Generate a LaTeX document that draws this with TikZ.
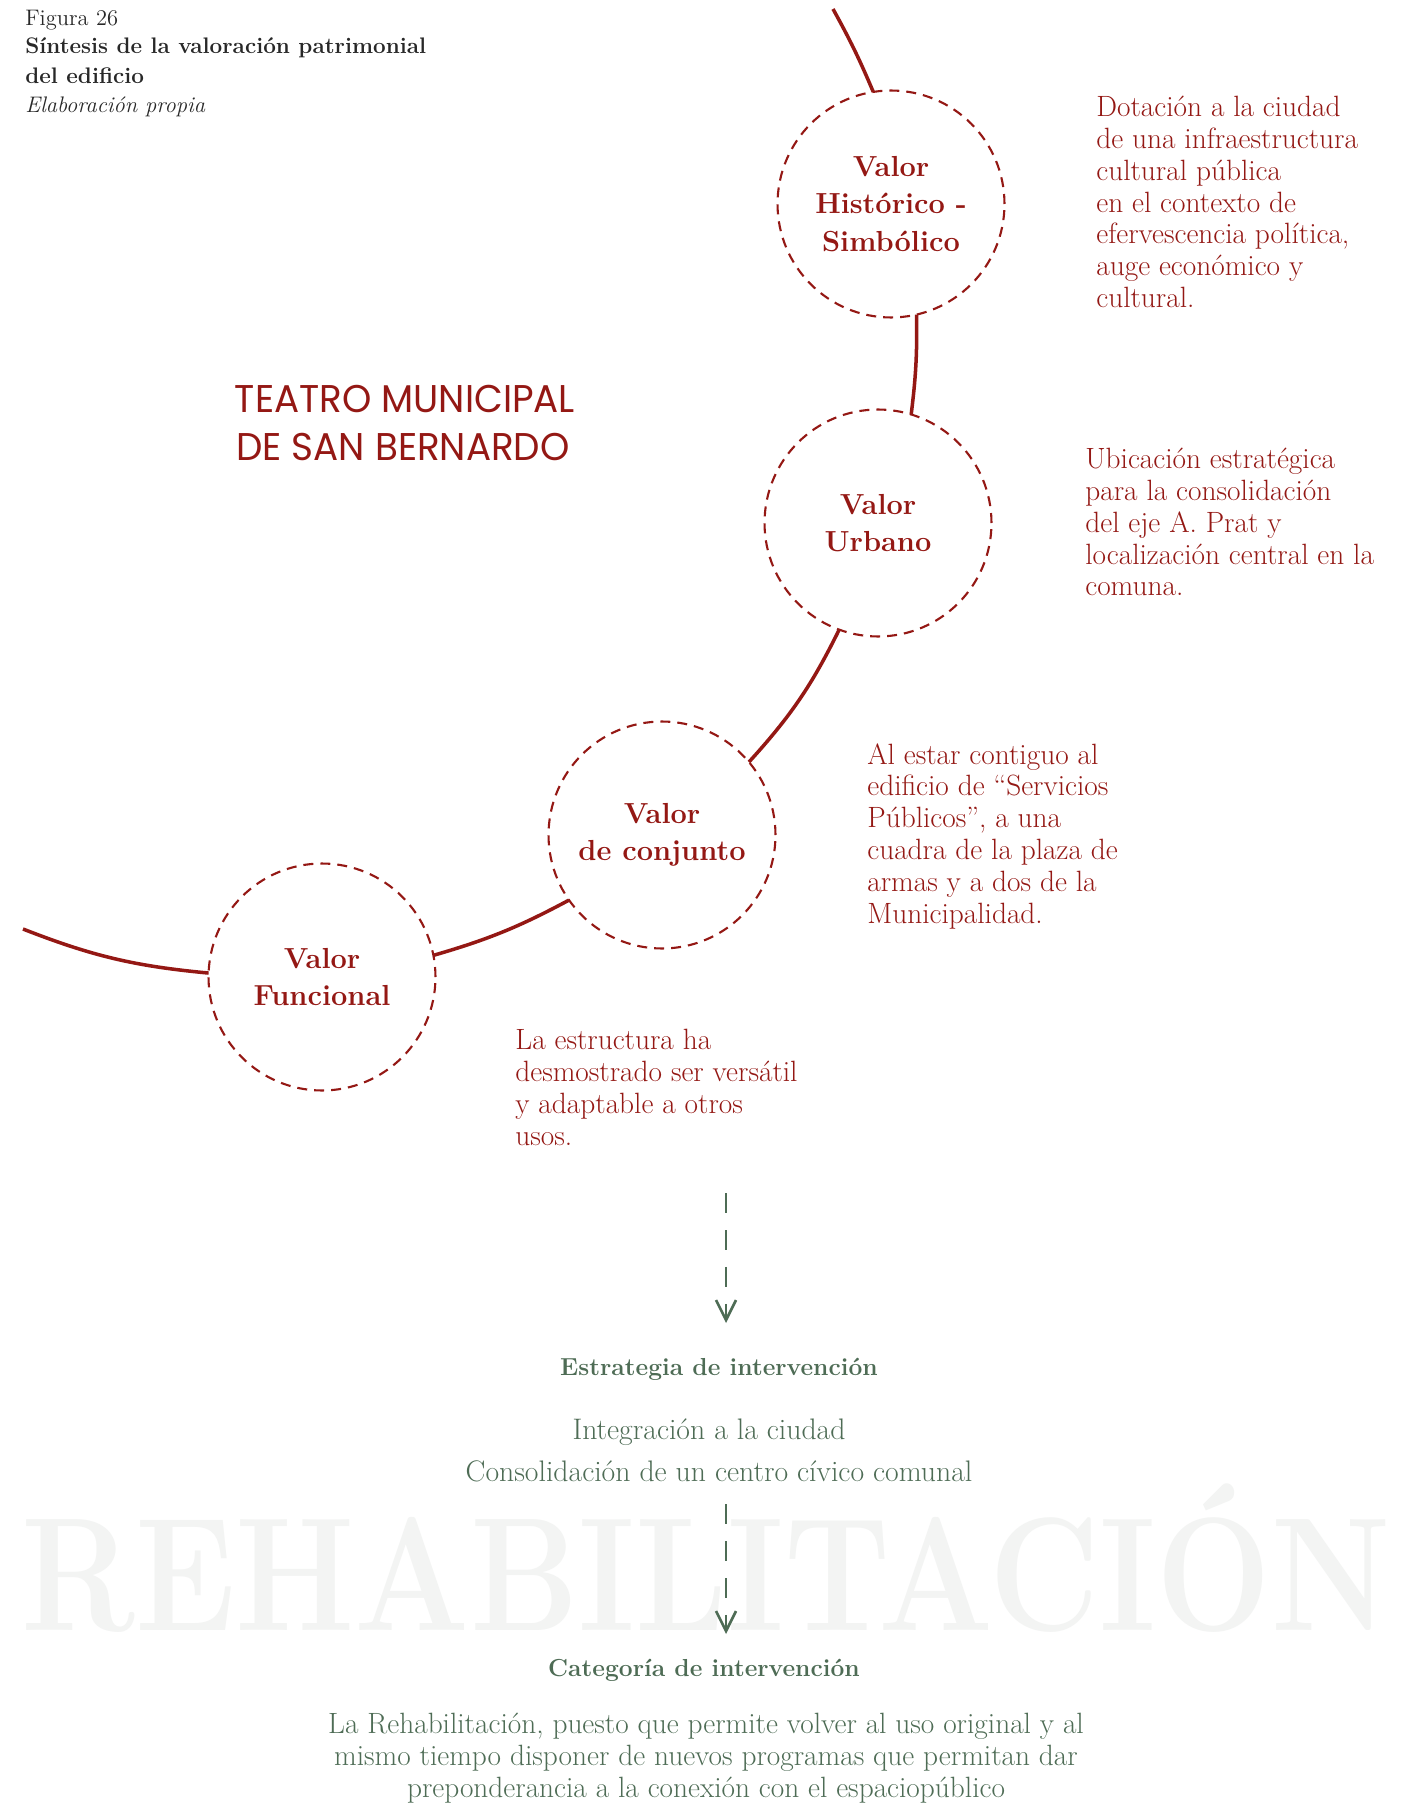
\documentclass[tikz,border=0pt]{standalone}
\usepackage{fontspec}
\usepackage{tikz}
\usetikzlibrary{arrows.meta, positioning, calc}
\definecolor{valred}{RGB}{148, 24, 20}
\definecolor{valgreen}{RGB}{78, 108, 85}
\definecolor{valgrey}{RGB}{40, 40, 40}
\definecolor{valwater}{RGB}{243, 244, 243}
\newfontfamily\decofont{Poppins}

\begin{document}
\begin{tikzpicture}[x=0.02cm, y=-0.02cm,
	valor/.style={circle, draw=valred, line width=1.2pt, dash pattern=on 0.2cm off 0.14cm,
		minimum size=4.54cm, inner sep=0pt, outer sep=0pt, text=valred, align=center,
		font=\bfseries\fontsize{16.5}{21.3}\selectfont},
	enlace/.style={draw=valred, line width=2pt},
	nota/.style={anchor=north west, inner sep=0pt, align=left, text=valred,
		font=\fontsize{16.7}{18.1}\selectfont},
	cabeza/.style={anchor=base west, inner sep=0pt, text=valgrey},
	verde/.style={anchor=base, inner sep=0pt, text=valgreen},
	flecha/.style={draw=valgreen, line width=1.5pt, dash pattern=on 0.4cm off 0.34cm,
		-{Straight Barb[length=0.4cm, width=0.4cm]}}]
	\useasboundingbox (0,0) rectangle (1427,1807);
	\fill[white] (0,0) rectangle (1427,1807);

	% marca de agua
	\node[anchor=base, inner sep=0pt, text=valwater, font=\bfseries\fontsize{92}{92}\selectfont] (agua) at (706,1630) {\scalebox{0.84}[1]{REHABILITACIÓN}};

	% titulo de la figura
	\node[cabeza, font=\fontsize{12.8}{16}\selectfont] (fig) at (25,26) {Figura 26};
	\node[cabeza, font=\bfseries\fontsize{12.8}{16}\selectfont] (sint1) at (25,54) {Síntesis de la valoración patrimonial};
	\node[cabeza, font=\bfseries\fontsize{12.8}{16}\selectfont] (sint2) at (25,84) {del edificio};
	\node[cabeza, font=\itshape\fontsize{12.8}{16}\selectfont] (elab) at (25,113) {Elaboración propia};

	\node[anchor=base, inner sep=0pt, text=valred, font=\decofont\fontsize{22}{22}\selectfont] (teatro1) at (405,413) {\scalebox{0.965}[1]{TEATRO MUNICIPAL}};
	\node[anchor=base, inner sep=0pt, text=valred, font=\decofont\fontsize{22}{22}\selectfont] (teatro2) at (403,460) {\scalebox{0.965}[1]{DE SAN BERNARDO}};

	% valores
	\node[valor] (his) at (891,204) {Valor\\Histórico -\\Simbólico};
	\node[valor] (urb) at (878,523) {Valor\\Urbano};
	\node[valor] (con) at (662,835) {Valor\\de conjunto};
	\node[valor] (fun) at (322,977) {Valor\\Funcional};

	\coordinate (ini) at (23,929);
	\coordinate (fin) at (833,9);
	\draw[enlace] (ini) to[bend right=8] (fun.178);
	\draw[enlace] (fun.11) to[bend right=6] (con.215);
	\draw[enlace] (con.40) to[bend right=8] (urb.250);
	\draw[enlace] (urb.73) to[bend right=4] (his.283);
	\draw[enlace] (his.99) to[bend right=3] (fin);

	\node[nota] (notahis) at (1096,96) {Dotación a la ciudad\\de una infraestructura\\cultural pública\\en el contexto de\\efervescencia política,\\auge económico y\\cultural.};
	\node[nota] (notaurb) at (1085,448) {Ubicación estratégica\\para la consolidación\\del eje A. Prat y\\localización central en la\\comuna.};
	\node[nota] (notacon) at (867,743) {Al estar contiguo al\\edificio de “Servicios\\Públicos”, a una\\cuadra de la plaza de\\armas y a dos de la\\Municipalidad.};
	\node[nota] (notafun) at (515,1029) {La estructura ha\\desmostrado ser versátil\\y adaptable a otros\\usos.};

	% estrategia y categoria
	\coordinate (fa1) at (726,1193);
	\coordinate (fb1) at (726,1323);
	\draw[flecha] (fa1) -- (fb1);
	\node[verde, font=\bfseries\fontsize{14}{18}\selectfont] (estr) at (719,1375) {Estrategia de intervención};
	\node[verde, font=\fontsize{16.9}{18}\selectfont] (integ) at (709,1439) {Integración a la ciudad};
	\node[verde, font=\fontsize{16.9}{18}\selectfont] (consol) at (719,1481) {Consolidación de un centro cívico comunal};

	\coordinate (fa2) at (726,1504);
	\coordinate (fb2) at (726,1634);
	\draw[flecha] (fa2) -- (fb2);
	\node[verde, font=\bfseries\fontsize{14}{18}\selectfont] (categ) at (704,1676) {Categoría de intervención};
	\node[anchor=north, inner sep=0pt, align=center, text=valgreen, font=\fontsize{16.7}{18.2}\selectfont] (rehab) at (706,1713) {La Rehabilitación, puesto que permite volver al uso original y al\\mismo tiempo disponer de nuevos programas que permitan dar\\preponderancia a la conexión con el espaciopúblico};
\end{tikzpicture}
\end{document}
